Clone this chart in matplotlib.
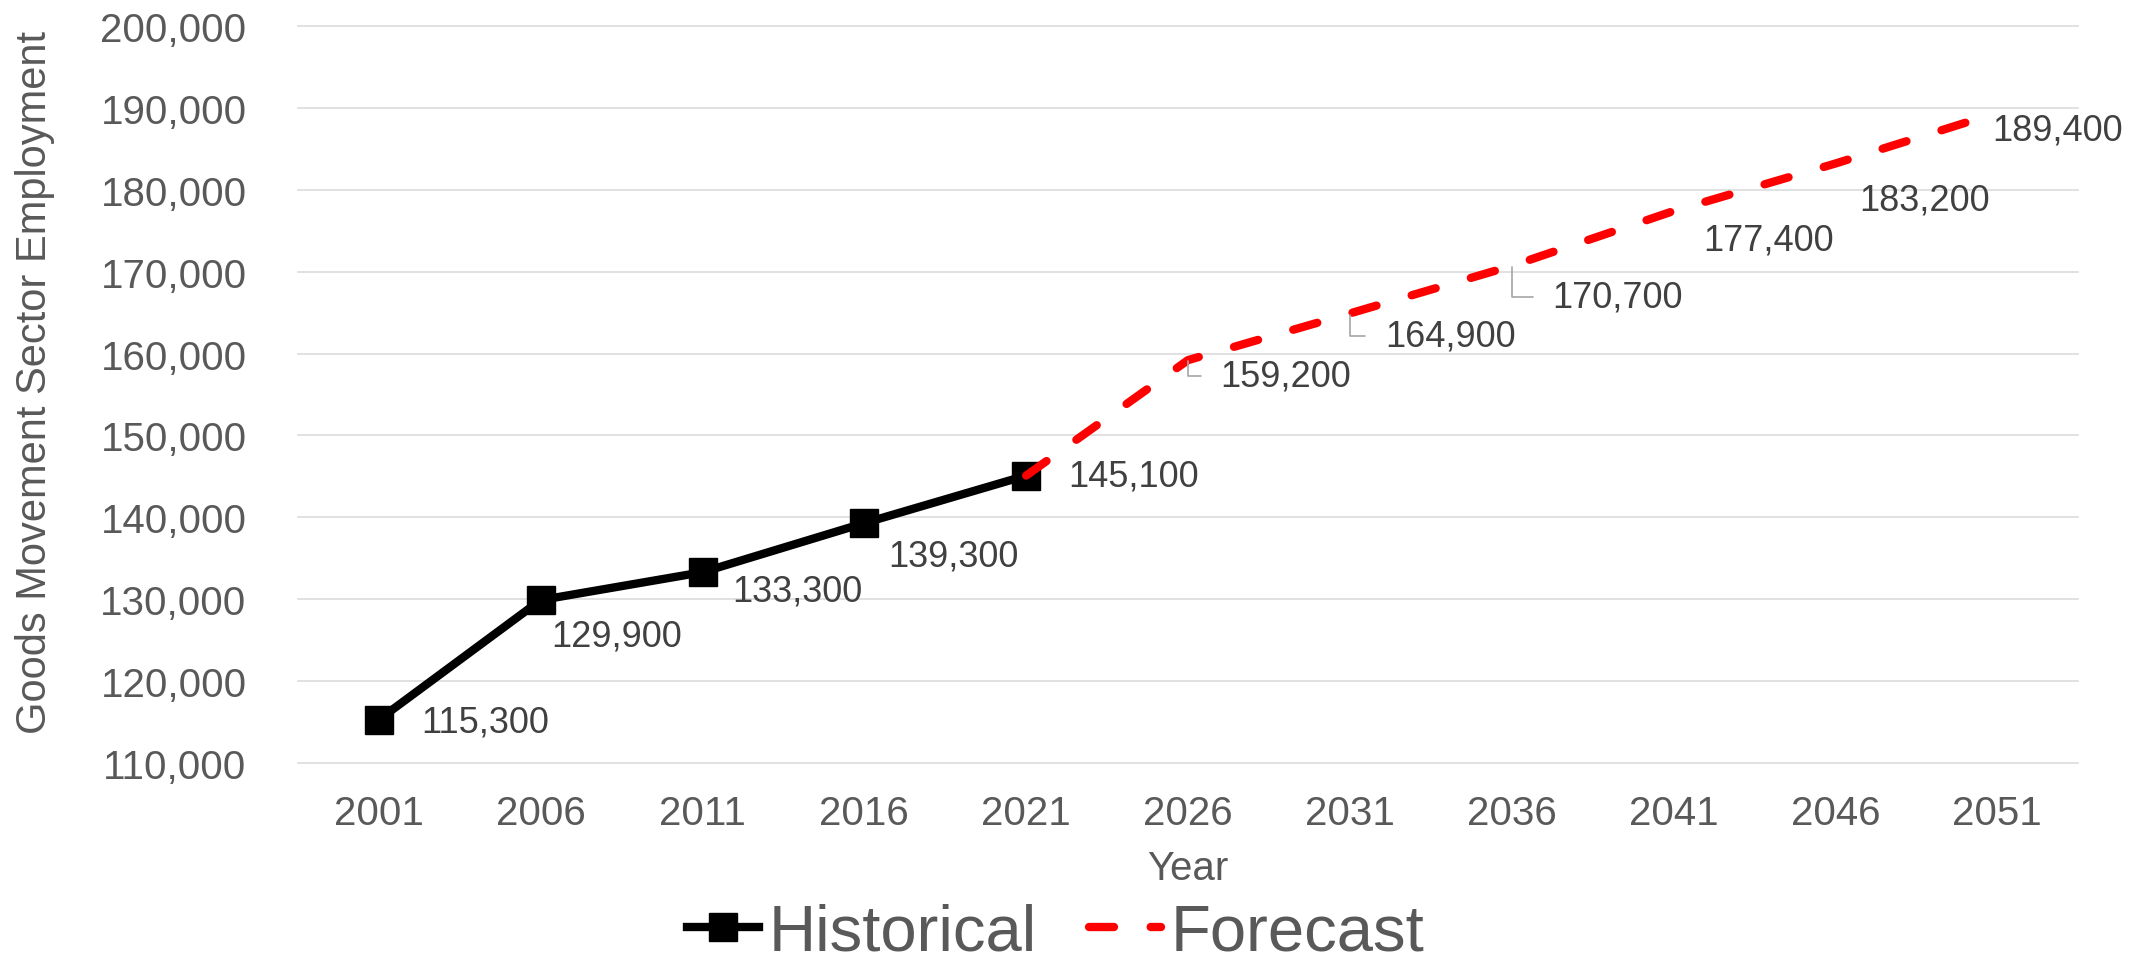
import matplotlib
matplotlib.use('Agg')
import matplotlib.pyplot as plt
from matplotlib.ticker import FuncFormatter

# Chart data
years = ['2001', '2006', '2011', '2016', '2021', '2026', '2031', '2036', '2041', '2046', '2051']
historical = [115300, 129900, 133300, 139300, 145100]
forecast = [145100, 159200, 164900, 170700, 177400, 183200, 189400]

# Label placement (pixel offsets from each point) and leader-line flags
hist_offsets = [(42, -2), (11, -36), (30, -19), (24, -33), (42, 0)]
fc_offsets = [(32, -16), (35, -23), (41, -31), (30, -29), (24, -36), (-5, -17)]
fc_leaders = [True, True, True, False, False, False]

plt.rcParams['font.family'] = ['Liberation Sans', 'DejaVu Sans']

fig = plt.figure(figsize=(21.44, 9.62), dpi=100)
ax = fig.add_axes([298 / 2144, 198 / 962, 1780 / 2144, 737 / 962])

xpos = list(range(len(years)))
hist_x = xpos[:len(historical)]
fc_x = xpos[len(historical) - 1:]

ax.plot(hist_x, historical, color='black', lw=6, marker='s', ms=20, label='Historical')
ax.plot(fc_x, forecast, color='red', lw=6, dashes=(3, 4.4), dash_capstyle='round',
        label='Forecast')

ax.set_xlim(-0.5, len(years) - 0.5)
ax.set_ylim(110000, 200000)
ax.set_yticks(range(110000, 200001, 10000))
ax.yaxis.set_major_formatter(FuncFormatter(lambda v, p: f'{v:,.0f}'))
ax.set_xticks(xpos, years)
ax.tick_params(length=0, labelsize=29, labelcolor='#595959')
ax.tick_params(axis='y', pad=37)
ax.tick_params(axis='x', pad=22)
ax.grid(axis='y', color='#d9d9d9', lw=1.1)
for gl in ax.get_ygridlines():
    gl.set_clip_on(False)
ax.set_axisbelow(True)
for s in ax.spines.values():
    s.set_visible(False)

# Data labels
for xi, v, off in zip(hist_x, historical, hist_offsets):
    ax.annotate(f'{v:,}', (xi, v), xytext=off, textcoords='offset pixels',
                ha='left', va='center', fontsize=26, color='#404040')

for xi, v, off, lead in zip(fc_x[1:], forecast[1:], fc_offsets, fc_leaders):
    arrow = None
    if lead:
        arrow = dict(arrowstyle='-', color='#a6a6a6', lw=1.2, relpos=(0, 0.5),
                     connectionstyle='angle,angleA=0,angleB=90,rad=0',
                     shrinkA=12, shrinkB=1)
    ax.annotate(f'{v:,}', (xi, v), xytext=off, textcoords='offset pixels',
                ha='left', va='center', fontsize=26, color='#404040',
                arrowprops=arrow)

fig.text(35 / 2144, 1 - 383 / 962, 'Goods Movement Sector Employment', rotation=90,
         ha='center', va='center', fontsize=30, color='#595959')
fig.text(1188 / 2144, 1 - 869 / 962, 'Year', ha='center', va='center',
         fontsize=29, color='#595959')

fig.legend(loc='center', bbox_to_anchor=(1056 / 2144, 1 - 934 / 962), ncol=2,
           frameon=False, fontsize=47, handlelength=1.1, handletextpad=0.15,
           columnspacing=0.8, labelcolor='#595959', borderpad=0)

fig.savefig('out.png', dpi=100)
